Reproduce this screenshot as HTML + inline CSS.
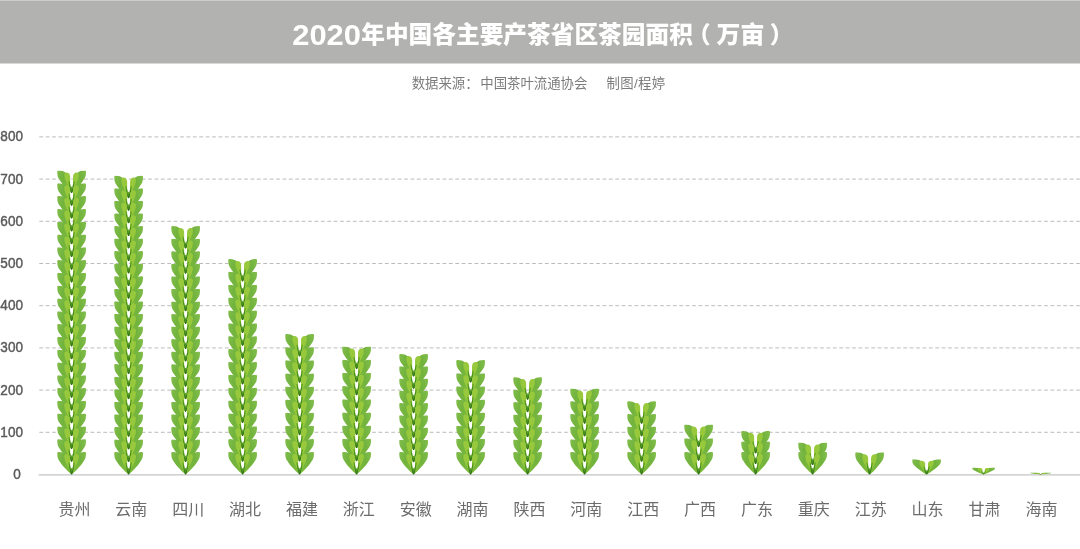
<!DOCTYPE html>
<html lang="zh-CN"><head><meta charset="utf-8"><title>2020年中国各主要产茶省区茶园面积</title>
<style>
html,body{margin:0;padding:0;background:#fff;}
body{width:1080px;height:549px;overflow:hidden;position:relative;font-family:"Liberation Sans","Noto Sans CJK SC",sans-serif;}
svg{position:absolute;left:0;top:0;display:block;}
.t{font-family:"Liberation Sans","Noto Sans CJK SC",sans-serif;}
</style></head><body>
<svg width="1080" height="549" viewBox="0 0 1080 549">
<defs>
<linearGradient id="gl" x1="0" y1="0" x2="1" y2="0.5"><stop offset="0" stop-color="#82be4c"/><stop offset="0.45" stop-color="#72b33e"/><stop offset="1" stop-color="#7cba38"/></linearGradient>
<linearGradient id="gr" x1="1" y1="0" x2="0" y2="0.5"><stop offset="0" stop-color="#82be4c"/><stop offset="0.45" stop-color="#72b33e"/><stop offset="1" stop-color="#7cba38"/></linearGradient>
<linearGradient id="gs" gradientUnits="userSpaceOnUse" x1="0" y1="22.6" x2="0" y2="11"><stop offset="0" stop-color="#2a651b"/><stop offset="0.55" stop-color="#3b851a"/><stop offset="1" stop-color="#5ea420"/></linearGradient>
<linearGradient id="gw" gradientUnits="userSpaceOnUse" x1="0" y1="22.6" x2="0" y2="15.5"><stop offset="0" stop-color="#2f6c1c"/><stop offset="0.5" stop-color="#4a9020"/><stop offset="1" stop-color="#74b434"/></linearGradient>
<symbol id="sp" viewBox="0 0 29 22.6" preserveAspectRatio="none">
<path d="M14.5 22.6 C12.4 21 9.6 18.2 8 16.4 C6 14.2 4.6 12.6 3.4 10.8 C2.2 9 0.8 7.5 0.4 5.2 C0.2 4 0.1 2.5 0.1 1.5 C0.1 0.6 0.6 0.1 1.5 0.1 C4 0 7 0.8 9 2.6 C11.4 5 12.4 9 12.9 13 C13.3 16 14.1 20 14.5 22.6Z" fill="url(#gl)"/>
<path d="M14.5 22.6C16.6 21 19.4 18.2 21 16.4C23 14.2 24.4 12.6 25.6 10.8C26.8 9 28.2 7.5 28.6 5.2C28.8 4 28.9 2.5 28.9 1.5C28.9 0.6 28.4 0.1 27.5 0.1C25 0 22 0.8 20 2.6C17.6 5 16.6 9 16.1 13C15.7 16 14.9 20 14.5 22.6Z" fill="url(#gr)"/>
<path d="M14.25 20 C12.6 17 7.8 11 7.2 5.2 C7 3.2 8 2 9.5 2 C11.3 2.1 12.7 3.4 13 5.6 C13.2 8.5 12.9 12 13.2 15 C13.4 17 14 19 14.25 20Z" fill="#98c93d"/>
<path d="M14.75 20C16.4 17 21.2 11 21.8 5.2C22 3.2 21 2 19.5 2C17.7 2.1 16.3 3.4 16 5.6C15.8 8.5 16.1 12 15.8 15C15.6 17 15 19 14.75 20Z" fill="#98c93d"/>
<path d="M14.5 22.4 L13.7 19.5 Q12.6 15.5 11.9 11 M14.5 22.4L15.3 19.5Q16.4 15.5 17.1 11" stroke="url(#gs)" stroke-width="1.2" fill="none" stroke-linecap="round"/>
<path d="M14.5 22.6 L13.35 17.2 Q14.5 15.2 15.65 17.2Z" fill="url(#gw)"/>
</symbol>
</defs>
<rect x="0" y="0" width="1080" height="63.5" fill="#b2b2b0"/>
<rect x="0" y="0" width="1080" height="1" fill="#cdcdcb"/>
<g class="t" font-weight="900" fill="#fff" font-size="23.9"><text x="292.2" y="44.5" font-size="29.7" font-weight="700" textLength="68.8" lengthAdjust="spacingAndGlyphs">2020</text><text x="361.2" y="43.3" font-size="23.7">年中国各主要产茶省区茶园面积</text><text x="687.2" y="43" font-size="23.4">（</text><text x="716.6" y="43.3">万亩</text><text x="769.8" y="43" font-size="23.4">）</text></g>
<g class="t" fill="#7c7c7c" font-size="13.4"><text x="411.7" y="87.6">数据来源：<tspan dx="1.6">中国茶叶流通协会</tspan></text><text x="606.6" y="87.6" letter-spacing="0.3">制图/程婷</text></g>
<line x1="39.3" y1="432.30" x2="1080" y2="432.30" stroke="#b4b4b4" stroke-width="0.9" stroke-dasharray="3.8 2.6"/>
<line x1="39.3" y1="390.10" x2="1080" y2="390.10" stroke="#b4b4b4" stroke-width="0.9" stroke-dasharray="3.8 2.6"/>
<line x1="39.3" y1="347.90" x2="1080" y2="347.90" stroke="#b4b4b4" stroke-width="0.9" stroke-dasharray="3.8 2.6"/>
<line x1="39.3" y1="305.70" x2="1080" y2="305.70" stroke="#b4b4b4" stroke-width="0.9" stroke-dasharray="3.8 2.6"/>
<line x1="39.3" y1="263.50" x2="1080" y2="263.50" stroke="#b4b4b4" stroke-width="0.9" stroke-dasharray="3.8 2.6"/>
<line x1="39.3" y1="221.30" x2="1080" y2="221.30" stroke="#b4b4b4" stroke-width="0.9" stroke-dasharray="3.8 2.6"/>
<line x1="39.3" y1="179.10" x2="1080" y2="179.10" stroke="#b4b4b4" stroke-width="0.9" stroke-dasharray="3.8 2.6"/>
<line x1="39.3" y1="136.90" x2="1080" y2="136.90" stroke="#b4b4b4" stroke-width="0.9" stroke-dasharray="3.8 2.6"/>
<line x1="38.6" y1="474.9" x2="1080" y2="474.9" stroke="#c4c4c4" stroke-width="1.3"/>
<g class="t" fill="#5a5a5a" stroke="#5a5a5a" stroke-width="0.45" font-size="15.3" text-anchor="end"><text x="20.8" y="478.90" textLength="7.55" lengthAdjust="spacingAndGlyphs">0</text><text x="23" y="436.70" textLength="22.65" lengthAdjust="spacingAndGlyphs">100</text><text x="23" y="394.50" textLength="22.65" lengthAdjust="spacingAndGlyphs">200</text><text x="23" y="352.30" textLength="22.65" lengthAdjust="spacingAndGlyphs">300</text><text x="23" y="310.10" textLength="22.65" lengthAdjust="spacingAndGlyphs">400</text><text x="23" y="267.90" textLength="22.65" lengthAdjust="spacingAndGlyphs">500</text><text x="23" y="225.70" textLength="22.65" lengthAdjust="spacingAndGlyphs">600</text><text x="23" y="183.50" textLength="22.65" lengthAdjust="spacingAndGlyphs">700</text><text x="23" y="141.30" textLength="22.65" lengthAdjust="spacingAndGlyphs">800</text></g>
<use href="#sp" x="57.10" y="170.40" width="29.00" height="22.60"/><use href="#sp" x="57.10" y="183.20" width="29.00" height="22.60"/><use href="#sp" x="57.10" y="195.99" width="29.00" height="22.60"/><use href="#sp" x="57.10" y="208.79" width="29.00" height="22.60"/><use href="#sp" x="57.10" y="221.58" width="29.00" height="22.60"/><use href="#sp" x="57.10" y="234.38" width="29.00" height="22.60"/><use href="#sp" x="57.10" y="247.17" width="29.00" height="22.60"/><use href="#sp" x="57.10" y="259.97" width="29.00" height="22.60"/><use href="#sp" x="57.10" y="272.76" width="29.00" height="22.60"/><use href="#sp" x="57.10" y="285.56" width="29.00" height="22.60"/><use href="#sp" x="57.10" y="298.35" width="29.00" height="22.60"/><use href="#sp" x="57.10" y="311.15" width="29.00" height="22.60"/><use href="#sp" x="57.10" y="323.95" width="29.00" height="22.60"/><use href="#sp" x="57.10" y="336.74" width="29.00" height="22.60"/><use href="#sp" x="57.10" y="349.54" width="29.00" height="22.60"/><use href="#sp" x="57.10" y="362.33" width="29.00" height="22.60"/><use href="#sp" x="57.10" y="375.13" width="29.00" height="22.60"/><use href="#sp" x="57.10" y="387.92" width="29.00" height="22.60"/><use href="#sp" x="57.10" y="400.72" width="29.00" height="22.60"/><use href="#sp" x="57.10" y="413.51" width="29.00" height="22.60"/><use href="#sp" x="57.10" y="426.31" width="29.00" height="22.60"/><use href="#sp" x="57.10" y="439.10" width="29.00" height="22.60"/><use href="#sp" x="57.10" y="451.90" width="29.00" height="22.60"/>
<use href="#sp" x="114.10" y="175.60" width="29.00" height="22.60"/><use href="#sp" x="114.10" y="188.16" width="29.00" height="22.60"/><use href="#sp" x="114.10" y="200.72" width="29.00" height="22.60"/><use href="#sp" x="114.10" y="213.28" width="29.00" height="22.60"/><use href="#sp" x="114.10" y="225.84" width="29.00" height="22.60"/><use href="#sp" x="114.10" y="238.40" width="29.00" height="22.60"/><use href="#sp" x="114.10" y="250.95" width="29.00" height="22.60"/><use href="#sp" x="114.10" y="263.51" width="29.00" height="22.60"/><use href="#sp" x="114.10" y="276.07" width="29.00" height="22.60"/><use href="#sp" x="114.10" y="288.63" width="29.00" height="22.60"/><use href="#sp" x="114.10" y="301.19" width="29.00" height="22.60"/><use href="#sp" x="114.10" y="313.75" width="29.00" height="22.60"/><use href="#sp" x="114.10" y="326.31" width="29.00" height="22.60"/><use href="#sp" x="114.10" y="338.87" width="29.00" height="22.60"/><use href="#sp" x="114.10" y="351.43" width="29.00" height="22.60"/><use href="#sp" x="114.10" y="363.99" width="29.00" height="22.60"/><use href="#sp" x="114.10" y="376.55" width="29.00" height="22.60"/><use href="#sp" x="114.10" y="389.10" width="29.00" height="22.60"/><use href="#sp" x="114.10" y="401.66" width="29.00" height="22.60"/><use href="#sp" x="114.10" y="414.22" width="29.00" height="22.60"/><use href="#sp" x="114.10" y="426.78" width="29.00" height="22.60"/><use href="#sp" x="114.10" y="439.34" width="29.00" height="22.60"/><use href="#sp" x="114.10" y="451.90" width="29.00" height="22.60"/>
<use href="#sp" x="171.10" y="226.00" width="29.00" height="22.60"/><use href="#sp" x="171.10" y="238.55" width="29.00" height="22.60"/><use href="#sp" x="171.10" y="251.10" width="29.00" height="22.60"/><use href="#sp" x="171.10" y="263.65" width="29.00" height="22.60"/><use href="#sp" x="171.10" y="276.20" width="29.00" height="22.60"/><use href="#sp" x="171.10" y="288.75" width="29.00" height="22.60"/><use href="#sp" x="171.10" y="301.30" width="29.00" height="22.60"/><use href="#sp" x="171.10" y="313.85" width="29.00" height="22.60"/><use href="#sp" x="171.10" y="326.40" width="29.00" height="22.60"/><use href="#sp" x="171.10" y="338.95" width="29.00" height="22.60"/><use href="#sp" x="171.10" y="351.50" width="29.00" height="22.60"/><use href="#sp" x="171.10" y="364.05" width="29.00" height="22.60"/><use href="#sp" x="171.10" y="376.60" width="29.00" height="22.60"/><use href="#sp" x="171.10" y="389.15" width="29.00" height="22.60"/><use href="#sp" x="171.10" y="401.70" width="29.00" height="22.60"/><use href="#sp" x="171.10" y="414.25" width="29.00" height="22.60"/><use href="#sp" x="171.10" y="426.80" width="29.00" height="22.60"/><use href="#sp" x="171.10" y="439.35" width="29.00" height="22.60"/><use href="#sp" x="171.10" y="451.90" width="29.00" height="22.60"/>
<use href="#sp" x="228.10" y="258.90" width="29.00" height="22.60"/><use href="#sp" x="228.10" y="271.77" width="29.00" height="22.60"/><use href="#sp" x="228.10" y="284.63" width="29.00" height="22.60"/><use href="#sp" x="228.10" y="297.50" width="29.00" height="22.60"/><use href="#sp" x="228.10" y="310.37" width="29.00" height="22.60"/><use href="#sp" x="228.10" y="323.23" width="29.00" height="22.60"/><use href="#sp" x="228.10" y="336.10" width="29.00" height="22.60"/><use href="#sp" x="228.10" y="348.97" width="29.00" height="22.60"/><use href="#sp" x="228.10" y="361.83" width="29.00" height="22.60"/><use href="#sp" x="228.10" y="374.70" width="29.00" height="22.60"/><use href="#sp" x="228.10" y="387.57" width="29.00" height="22.60"/><use href="#sp" x="228.10" y="400.43" width="29.00" height="22.60"/><use href="#sp" x="228.10" y="413.30" width="29.00" height="22.60"/><use href="#sp" x="228.10" y="426.17" width="29.00" height="22.60"/><use href="#sp" x="228.10" y="439.03" width="29.00" height="22.60"/><use href="#sp" x="228.10" y="451.90" width="29.00" height="22.60"/>
<use href="#sp" x="285.10" y="334.00" width="29.00" height="22.60"/><use href="#sp" x="285.10" y="347.10" width="29.00" height="22.60"/><use href="#sp" x="285.10" y="360.20" width="29.00" height="22.60"/><use href="#sp" x="285.10" y="373.30" width="29.00" height="22.60"/><use href="#sp" x="285.10" y="386.40" width="29.00" height="22.60"/><use href="#sp" x="285.10" y="399.50" width="29.00" height="22.60"/><use href="#sp" x="285.10" y="412.60" width="29.00" height="22.60"/><use href="#sp" x="285.10" y="425.70" width="29.00" height="22.60"/><use href="#sp" x="285.10" y="438.80" width="29.00" height="22.60"/><use href="#sp" x="285.10" y="451.90" width="29.00" height="22.60"/>
<use href="#sp" x="342.10" y="346.40" width="29.00" height="22.60"/><use href="#sp" x="342.10" y="359.59" width="29.00" height="22.60"/><use href="#sp" x="342.10" y="372.77" width="29.00" height="22.60"/><use href="#sp" x="342.10" y="385.96" width="29.00" height="22.60"/><use href="#sp" x="342.10" y="399.15" width="29.00" height="22.60"/><use href="#sp" x="342.10" y="412.34" width="29.00" height="22.60"/><use href="#sp" x="342.10" y="425.52" width="29.00" height="22.60"/><use href="#sp" x="342.10" y="438.71" width="29.00" height="22.60"/><use href="#sp" x="342.10" y="451.90" width="29.00" height="22.60"/>
<use href="#sp" x="399.10" y="354.00" width="29.00" height="22.60"/><use href="#sp" x="399.10" y="366.24" width="29.00" height="22.60"/><use href="#sp" x="399.10" y="378.47" width="29.00" height="22.60"/><use href="#sp" x="399.10" y="390.71" width="29.00" height="22.60"/><use href="#sp" x="399.10" y="402.95" width="29.00" height="22.60"/><use href="#sp" x="399.10" y="415.19" width="29.00" height="22.60"/><use href="#sp" x="399.10" y="427.42" width="29.00" height="22.60"/><use href="#sp" x="399.10" y="439.66" width="29.00" height="22.60"/><use href="#sp" x="399.10" y="451.90" width="29.00" height="22.60"/>
<use href="#sp" x="456.10" y="360.00" width="29.00" height="22.60"/><use href="#sp" x="456.10" y="373.13" width="29.00" height="22.60"/><use href="#sp" x="456.10" y="386.26" width="29.00" height="22.60"/><use href="#sp" x="456.10" y="399.39" width="29.00" height="22.60"/><use href="#sp" x="456.10" y="412.51" width="29.00" height="22.60"/><use href="#sp" x="456.10" y="425.64" width="29.00" height="22.60"/><use href="#sp" x="456.10" y="438.77" width="29.00" height="22.60"/><use href="#sp" x="456.10" y="451.90" width="29.00" height="22.60"/>
<use href="#sp" x="513.10" y="377.10" width="29.00" height="22.60"/><use href="#sp" x="513.10" y="389.57" width="29.00" height="22.60"/><use href="#sp" x="513.10" y="402.03" width="29.00" height="22.60"/><use href="#sp" x="513.10" y="414.50" width="29.00" height="22.60"/><use href="#sp" x="513.10" y="426.97" width="29.00" height="22.60"/><use href="#sp" x="513.10" y="439.43" width="29.00" height="22.60"/><use href="#sp" x="513.10" y="451.90" width="29.00" height="22.60"/>
<use href="#sp" x="570.10" y="388.40" width="29.00" height="22.60"/><use href="#sp" x="570.10" y="401.10" width="29.00" height="22.60"/><use href="#sp" x="570.10" y="413.80" width="29.00" height="22.60"/><use href="#sp" x="570.10" y="426.50" width="29.00" height="22.60"/><use href="#sp" x="570.10" y="439.20" width="29.00" height="22.60"/><use href="#sp" x="570.10" y="451.90" width="29.00" height="22.60"/>
<use href="#sp" x="627.10" y="401.10" width="29.00" height="22.60"/><use href="#sp" x="627.10" y="413.80" width="29.00" height="22.60"/><use href="#sp" x="627.10" y="426.50" width="29.00" height="22.60"/><use href="#sp" x="627.10" y="439.20" width="29.00" height="22.60"/><use href="#sp" x="627.10" y="451.90" width="29.00" height="22.60"/>
<use href="#sp" x="684.10" y="424.40" width="29.00" height="22.60"/><use href="#sp" x="684.10" y="438.15" width="29.00" height="22.60"/><use href="#sp" x="684.10" y="451.90" width="29.00" height="22.60"/>
<use href="#sp" x="741.10" y="430.80" width="29.00" height="22.60"/><use href="#sp" x="741.10" y="441.35" width="29.00" height="22.60"/><use href="#sp" x="741.10" y="451.90" width="29.00" height="22.60"/>
<use href="#sp" x="798.10" y="442.50" width="29.00" height="22.60"/><use href="#sp" x="798.10" y="451.90" width="29.00" height="22.60"/>
<use href="#sp" x="855.10" y="452.20" width="29.00" height="22.30"/>
<use href="#sp" x="912.10" y="459.30" width="29.00" height="15.20"/>
<use href="#sp" x="972.10" y="467.40" width="23.00" height="7.10"/>
<use href="#sp" x="1029.60" y="472.50" width="22.00" height="2.00"/>
<g class="t" fill="#6c6c6c" font-size="16" text-anchor="middle" font-weight="400"><text x="74.4" y="514.9">贵州</text><text x="131.3" y="514.9">云南</text><text x="188.2" y="514.9">四川</text><text x="245.0" y="514.9">湖北</text><text x="301.9" y="514.9">福建</text><text x="358.8" y="514.9">浙江</text><text x="415.7" y="514.9">安徽</text><text x="472.6" y="514.9">湖南</text><text x="529.4" y="514.9">陕西</text><text x="586.3" y="514.9">河南</text><text x="643.2" y="514.9">江西</text><text x="700.1" y="514.9">广西</text><text x="757.0" y="514.9">广东</text><text x="813.8" y="514.9">重庆</text><text x="870.7" y="514.9">江苏</text><text x="927.6" y="514.9">山东</text><text x="984.5" y="514.9">甘肃</text><text x="1041.4" y="514.9">海南</text></g>
</svg>
</body></html>
